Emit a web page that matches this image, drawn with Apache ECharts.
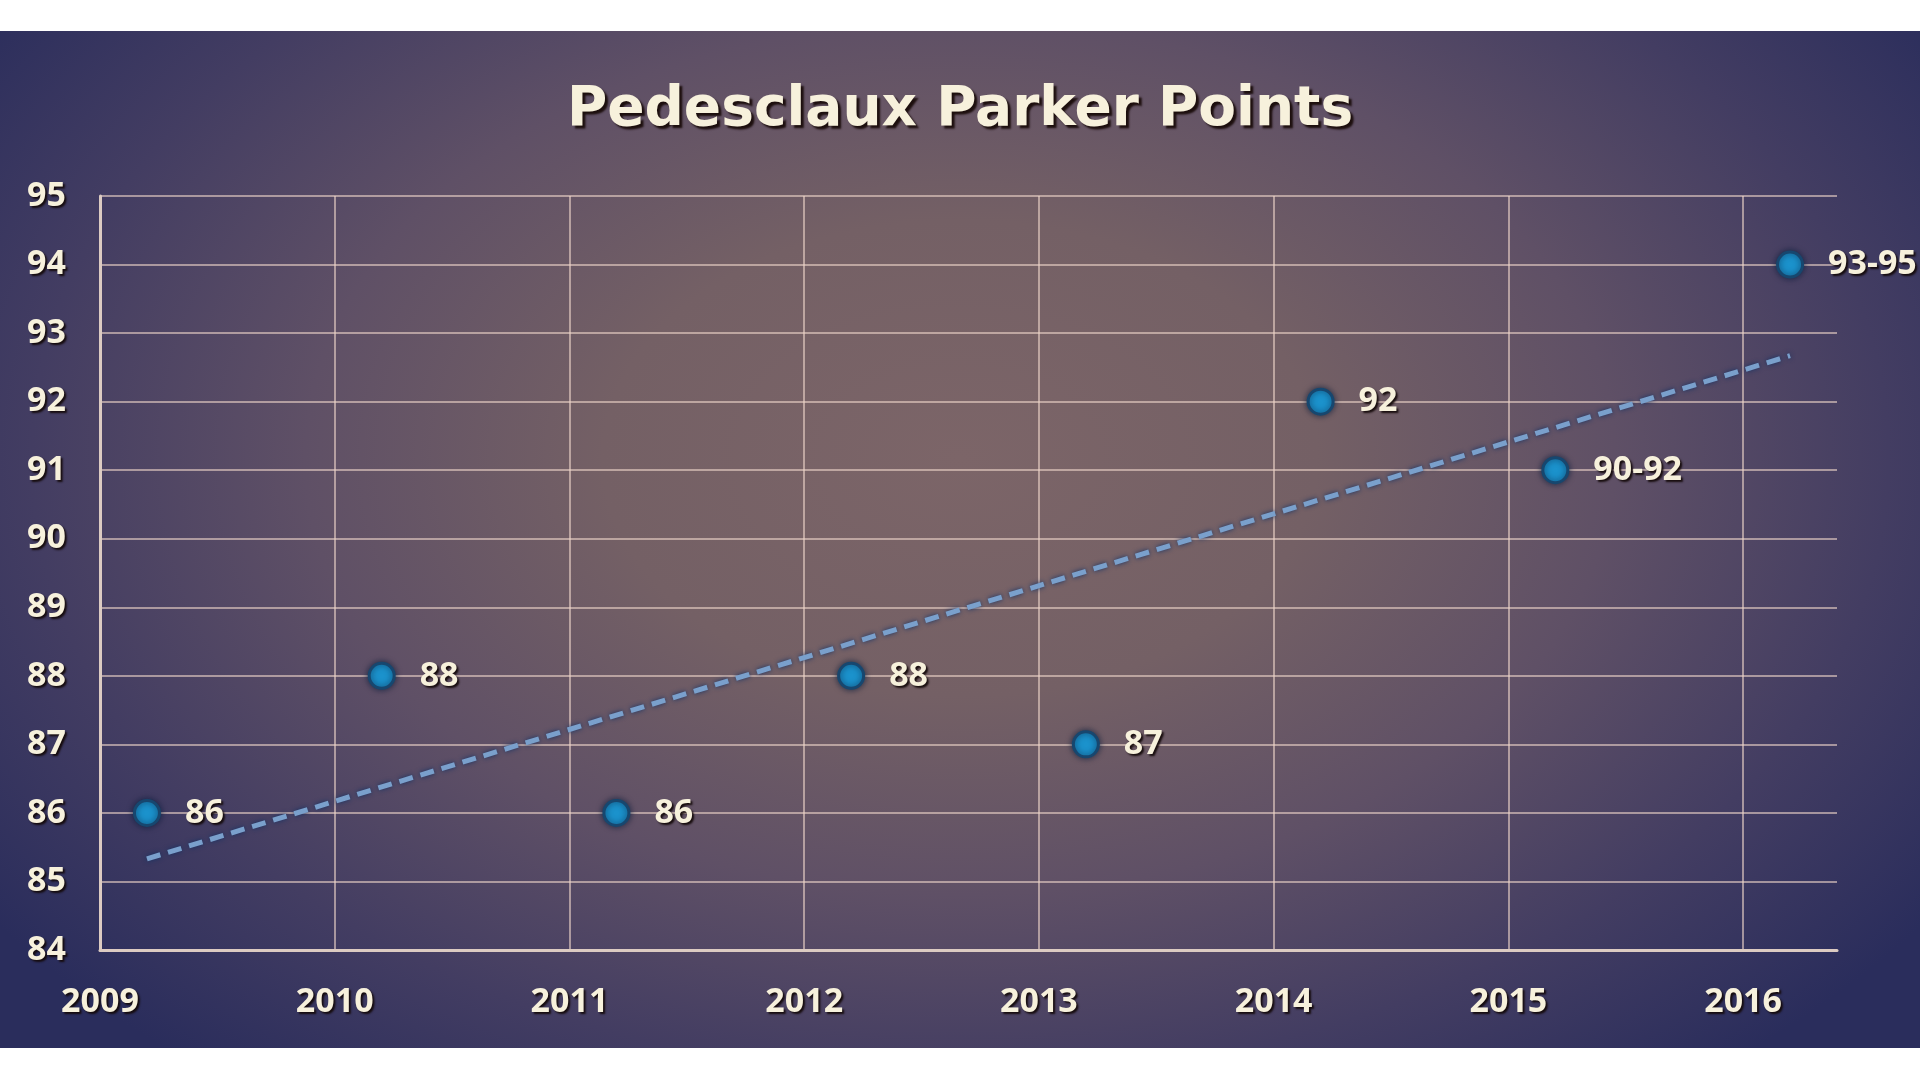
<!DOCTYPE html>
<html>
<head>
<meta charset="utf-8">
<script src="https://cdn.jsdelivr.net/npm/echarts@6/dist/echarts.min.js"></script>
<style>
html,body{margin:0;padding:0;background:#ffffff;width:1920px;height:1080px;overflow:hidden;}
#chart{position:absolute;left:0;top:31px;width:1920px;height:1017px;
background:radial-gradient(ellipse 62% 78% at 50% 42%, #7c6568 0%, #74606565 30%, #5f5066 55%, #433d62 78%, #2a2d5c 100%);
background:radial-gradient(ellipse 62% 78% at 50% 42%, #7c6568 0%, #746065 30%, #5f5066 55%, #433d62 78%, #2a2d5c 100%);}
</style>
</head>
<body>
<div id="chart"></div>
<script>
// ---- data ----
const titleText = 'Pedesclaux Parker Points';
const vintages = [2009, 2010, 2011, 2012, 2013, 2014, 2015, 2016];
const xPositions = [2009.2, 2010.2, 2011.2, 2012.2, 2013.2, 2014.2, 2015.2, 2016.2];
const scores = [86, 88, 86, 88, 87, 92, 91, 94];
const scoreLabels = ['86', '88', '86', '88', '87', '92', '90-92', '93-95'];
const trendX = [2009.2, 2016.2];
const trendY = [85.33, 92.67];
const yTicks = { min: 84, max: 95, step: 1 };
const xRange = { min: 2009, max: 2016.4, step: 1 };

const cream = '#f7f1dc';
const shadow = { textShadowColor: 'rgba(20,10,10,0.95)', textShadowBlur: 2, textShadowOffsetX: 2, textShadowOffsetY: 2 };
const gridColor = 'rgba(236,212,200,0.6)';

const chart = echarts.init(document.getElementById('chart'), null, { renderer: 'canvas' });

const xSplitColors = [];
for (let v = xRange.min; v <= xRange.max; v += xRange.step) xSplitColors.push(gridColor);
xSplitColors.push('rgba(0,0,0,0)');

chart.setOption({
  backgroundColor: 'transparent',
  animation: false,
  title: {
    text: titleText,
    left: 'center',
    top: 47,
    textStyle: {
      fontFamily: 'DejaVu Sans',
      fontWeight: 'bold',
      fontSize: 55,
      color: cream,
      textShadowColor: 'rgba(25,12,10,0.95)', textShadowBlur: 2, textShadowOffsetX: 3, textShadowOffsetY: 3
    }
  },
  grid: { left: 100, right: 83, top: 165, bottom: 98, containLabel: false },
  xAxis: {
    type: 'value',
    min: xRange.min,
    max: xRange.max,
    interval: xRange.step,
    axisLine: { show: true, lineStyle: { color: '#dccbc2', width: 3 } },
    axisTick: { show: false },
    splitLine: { show: true, lineStyle: { color: xSplitColors, width: 2 } },
    axisLabel: Object.assign({
      showMaxLabel: false,
      margin: 35,
      fontFamily: 'Open Sans',
      fontWeight: 'bold',
      fontSize: 34,
      color: cream,
      formatter: function (v) { return Number.isInteger(v) ? String(v) : ''; }
    }, shadow)
  },
  yAxis: {
    type: 'value',
    min: yTicks.min,
    max: yTicks.max,
    interval: yTicks.step,
    axisLine: { show: true, lineStyle: { color: '#dccbc2', width: 3 } },
    axisTick: { show: false },
    splitLine: { show: true, lineStyle: { color: gridColor, width: 2 } },
    axisLabel: Object.assign({
      margin: 34,
      fontFamily: 'Open Sans',
      fontWeight: 'bold',
      fontSize: 34,
      color: cream
    }, shadow)
  },
  series: [
    {
      type: 'line',
      data: trendX.map((x, i) => [x, trendY[i]]),
      symbol: 'none',
      z: 2,
      lineStyle: {
        color: '#7aa0cc',
        width: 5,
        type: [14, 8],
        shadowColor: 'rgba(20,50,100,0.95)',
        shadowBlur: 5
      },
      silent: true
    },
    {
      type: 'scatter',
      z: 3,
      data: xPositions.map((x, i) => ({ value: [x, scores[i]], label: { formatter: scoreLabels[i] } })),
      symbol: 'circle',
      symbolSize: 25,
      itemStyle: {
        color: '#1b92cc',
        borderColor: '#17476f',
        borderWidth: 3,
        shadowColor: 'rgba(10,30,60,0.7)',
        shadowBlur: 6,
        opacity: 1
      },
      label: Object.assign({
        show: true,
        position: 'right',
        distance: 24,
        fontFamily: 'Open Sans',
        fontWeight: 'bold',
        fontSize: 34,
        color: cream
      }, shadow)
    }
  ]
});
</script>
</body>
</html>
